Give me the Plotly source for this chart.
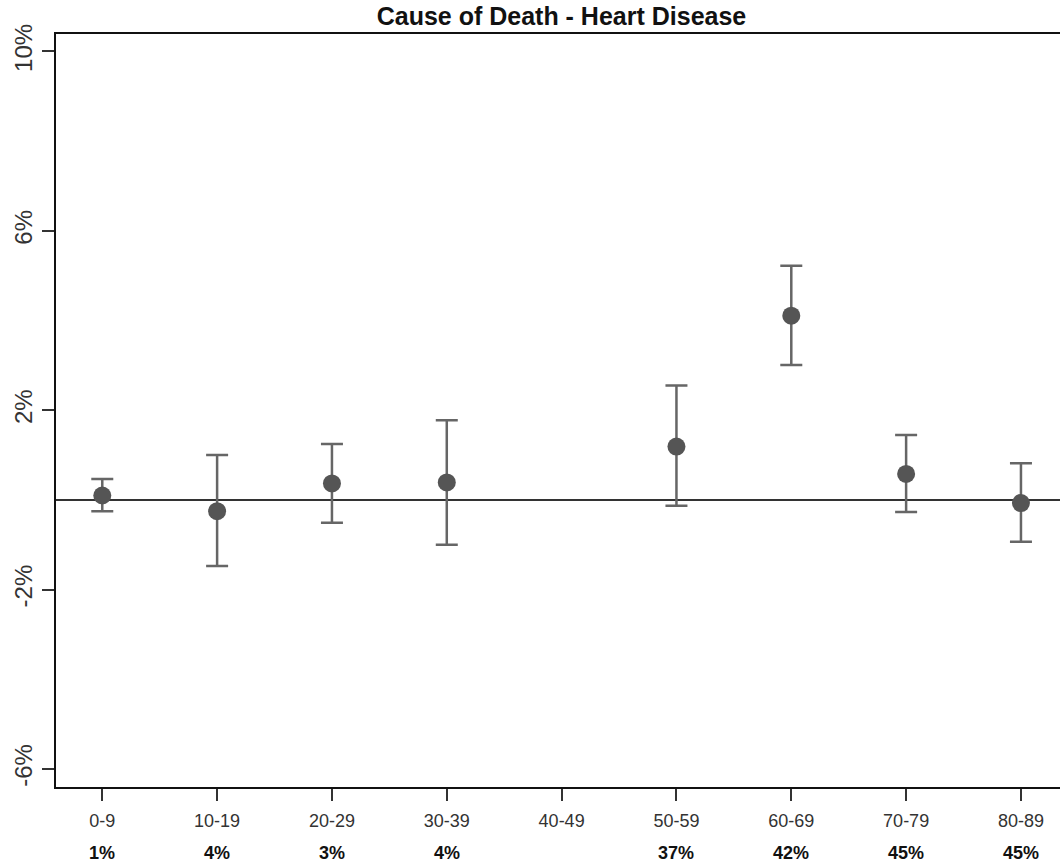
import plotly.graph_objects as go

categories = ["0-9", "10-19", "20-29", "30-39", "40-49", "50-59", "60-69", "70-79", "80-89"]
estimates = [0.10, -0.25, 0.37, 0.39, None, 1.19, 4.11, 0.58, -0.07]
upper = [0.47, 1.00, 1.25, 1.78, None, 2.55, 5.22, 1.45, 0.82]
lower = [-0.25, -1.47, -0.51, -1.00, None, -0.13, 3.01, -0.27, -0.93]
shares = ["1%", "4%", "3%", "4%", "", "37%", "42%", "45%", "45%"]
ytick_vals = [-6, -2, 2, 6, 10]
ytick_text = ["-6%", "-2%", "2%", "6%", "10%"]

xs = list(range(len(categories)))
err_plus = [(u - e) if e is not None else None for u, e in zip(upper, estimates)]
err_minus = [(e - l) if e is not None else None for l, e in zip(lower, estimates)]

fig = go.Figure()
fig.add_trace(go.Scatter(
    x=xs, y=estimates, mode="markers",
    marker=dict(size=18, color="#555555"),
    error_y=dict(type="data", symmetric=False, array=err_plus, arrayminus=err_minus,
                 color="#666666", thickness=2.5, width=11),
    showlegend=False,
))

for x, s in zip(xs, shares):
    if s:
        fig.add_annotation(x=x, y=0, xref="x", yref="paper", text="<b>" + s + "</b>",
                           showarrow=False, yanchor="middle", yshift=-66,
                           font=dict(size=18, color="#111111", family="Liberation Sans, Arial"))

fig.update_layout(
    width=1060, height=867,
    margin=dict(l=56, r=0, t=34, b=80),
    paper_bgcolor="white", plot_bgcolor="white",
    font=dict(family="Liberation Sans, Arial", color="#333333"),
    title=dict(text="<b>Cause of Death - Heart Disease</b>", x=0.5297, xanchor="center",
               y=1 - 16 / 867, yanchor="middle", font=dict(size=25, color="#111111")),
    xaxis=dict(range=[-0.403, 8.34], tickvals=xs, ticktext=categories,
               showgrid=False, zeroline=False, showline=True, linecolor="#111111",
               linewidth=2, mirror=True, ticks="outside", ticklen=12, tickwidth=1.5,
               tickcolor="#333333", ticklabelstandoff=4,
               tickfont=dict(size=18, color="#333333")),
    yaxis=dict(range=[-6.4, 10.39], tickvals=ytick_vals, ticktext=ytick_text,
               showgrid=False, zeroline=True, zerolinecolor="#333333", zerolinewidth=1.5,
               showline=True, linecolor="#111111", linewidth=2, ticks="outside",
               ticklen=12, tickwidth=1.5, tickcolor="#333333", tickangle=-90,
               tickfont=dict(size=24, color="#333333")),
)

fig.write_html("out.html")
